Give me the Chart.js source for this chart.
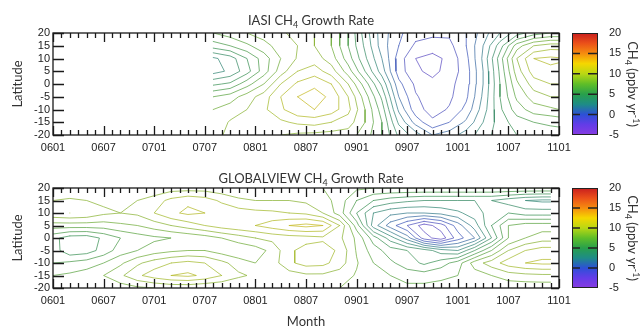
<!DOCTYPE html>
<html><head><meta charset="utf-8">
<script src="https://cdn.jsdelivr.net/npm/chart.js@4/dist/chart.umd.min.js"></script>
<style>html,body{margin:0;padding:0;background:#fff;}canvas{display:block;}</style>
</head><body>
<canvas id="c1" width="640" height="165"></canvas>
<canvas id="c2" width="640" height="165"></canvas>
<script>
// ---------- data ----------
const tickLabels = ['0601','0607','0701','0707','0801','0807','0901','0907','1001','1007','1101'];
const latitudes = [20, 15, 10, 5, 0, -5, -10, -15, -20];
const contourLevels = [-3,-2,-1,0,1,2,3,4,5,6,7,8,9,10,11,12,13];
const colorbarTicks = [-5, 0, 5, 10, 15, 20];

// IASI growth rate (ppbv/yr), month index from 0601 = 0
const iasiMonths = [19,21,23,25,27,29,31,33,35,37,39,41,43,45,47,49,51,53,55,57,59,60];
const iasiLat20  = [7.0,7.5,8.0,8.5,8.9,9.2,9.0,8.0,6.0,3.5,1.5,0.2,-0.6,-0.8,-0.8,0.0,1.5,3.0,4.5,5.5,6.0,6.0];
const iasiLat15  = [5.5,6.0,6.8,7.6,8.5,9.0,9.0,8.0,6.0,3.8,1.5,0.0,-1.2,-1.4,-1.3,0.0,2.0,4.5,7.5,9.0,9.5,9.5];
const iasiLat10  = [2.8,3.5,5.0,6.5,8.0,9.1,9.5,8.5,6.5,4.2,2.0,-0.5,-2.0,-2.4,-1.7,-0.3,2.2,5.5,9.0,11.0,11.2,11.1];
const iasiLat5   = [2.6,3.2,4.6,6.5,8.5,10.0,10.5,9.5,7.5,5.0,2.5,-0.5,-1.8,-2.3,-1.6,-0.5,2.0,5.2,8.5,10.5,10.8,10.8];
const iasiLat0   = [4.8,5.2,6.6,8.0,10.0,11.2,11.8,11.0,9.0,6.5,3.8,0.3,-1.2,-1.7,-1.3,-0.4,2.0,5.0,7.8,9.5,10.0,10.0];
const iasiLatS5  = [7.0,7.5,8.5,9.5,11.0,12.0,12.4,11.8,10.0,7.5,4.8,1.0,-0.9,-1.5,-1.2,-0.2,2.2,5.0,7.2,8.5,9.0,9.0];
const iasiLatS10 = [8.0,8.5,9.0,9.8,10.8,11.8,12.0,11.5,10.3,8.0,5.5,1.8,-0.6,-1.4,-0.9,0.3,2.5,4.8,6.5,7.5,7.8,8.0];
const iasiLatS15 = [8.3,9.1,9.3,9.5,9.8,10.2,10.4,10.0,9.5,8.0,6.0,2.8,0.6,-0.8,0.0,1.2,3.0,4.5,5.5,6.0,6.2,6.3];
const iasiLatS20 = [8.6,9.3,9.3,9.2,9.0,8.8,8.7,8.6,8.5,7.5,6.0,3.8,2.5,1.0,1.5,2.5,3.5,4.5,5.0,5.3,5.5,5.5];

// GLOBALVIEW growth rate (ppbv/yr)
const gvMonths = [0,2,4,6,8,10,12,14,16,18,20,22,24,26,28,30,32,34,36,38,40,42,44,46,48,50,52,54,56,58,59];
const gvLat20  = [8.0,8.0,8.0,8.0,8.0,8.0,8.2,8.5,8.5,8.5,8.3,8.2,8.2,8.3,8.3,8.2,8.0,7.5,7.2,7.0,7.0,7.0,7.0,7.0,7.0,7.0,7.0,7.0,7.0,7.0,7.0];
const gvLat15  = [9.0,9.2,9.0,8.8,8.8,9.0,9.5,10.3,10.8,10.5,9.8,9.2,9.0,9.0,9.0,8.8,8.5,7.5,6.0,5.0,4.5,4.2,4.0,4.0,4.0,4.0,4.0,3.5,3.0,2.8,2.8];
const gvLat10  = [9.8,10.0,9.8,9.2,9.0,9.2,10.0,10.8,11.2,11.0,10.8,10.5,10.3,10.2,10.0,9.8,9.0,7.5,5.0,3.0,2.3,2.0,2.0,2.3,2.8,3.5,4.5,5.0,4.5,4.5,4.5];
const gvLat5   = [7.5,7.5,7.5,7.5,7.8,8.0,8.5,9.0,9.5,10.0,10.5,10.8,11.0,11.5,12.0,12.3,12.0,10.0,6.5,2.5,0.5,-1.0,-2.5,-1.5,0.5,2.5,5.0,7.0,7.5,7.5,7.5];
const gvLat0   = [5.3,4.5,4.4,5.2,6.0,6.5,6.8,7.0,7.2,7.5,8.0,8.5,9.0,9.3,9.5,9.6,9.8,9.2,7.8,5.5,3.5,1.5,-1.5,-2.6,-0.5,1.0,4.0,7.0,8.0,8.5,8.5];
const gvLatS5  = [5.5,4.3,4.5,5.4,6.5,7.0,7.5,7.8,8.0,8.0,7.5,7.2,7.5,8.3,9.8,10.4,10.5,9.8,7.9,6.5,5.5,5.0,4.5,3.5,3.0,5.0,7.0,9.0,10.0,10.5,10.5];
const gvLatS10 = [6.0,6.2,6.5,7.0,7.8,8.8,9.5,10.0,10.3,10.0,9.3,8.5,8.0,8.5,9.8,10.4,10.3,9.5,8.1,7.0,6.2,5.5,4.8,5.5,6.5,8.5,9.5,10.5,11.0,11.2,11.2];
const gvLatS15 = [7.0,7.2,7.5,8.0,8.8,9.8,10.5,11.0,11.2,10.8,10.0,9.2,8.8,8.5,8.5,8.8,8.8,8.5,7.9,7.5,7.0,6.5,6.5,6.8,7.0,7.5,8.0,8.5,8.7,8.8,8.8];
const gvLatS20 = [7.5,7.5,7.5,7.5,7.5,7.8,8.0,8.2,8.2,8.0,8.0,8.0,8.0,8.0,8.0,8.0,8.0,8.0,7.8,7.5,7.5,7.3,7.3,7.3,7.3,7.3,7.3,7.3,7.3,7.3,7.3];

const iasiGrid = [iasiLat20, iasiLat15, iasiLat10, iasiLat5, iasiLat0, iasiLatS5, iasiLatS10, iasiLatS15, iasiLatS20];
const gvGrid = [gvLat20, gvLat15, gvLat10, gvLat5, gvLat0, gvLatS5, gvLatS10, gvLatS15, gvLatS20];

// ---------- colour map ----------
const cmapStops = [[-5,[135,60,225]],[-2.5,[100,60,232]],[0,[45,80,215]],[2.5,[30,140,135]],[5,[40,160,75]],
  [7.5,[95,190,40]],[10,[185,215,20]],[12.5,[245,215,0]],[15,[245,140,15]],[17.5,[235,80,25]],[20,[200,30,30]]];
function cmap(v){
  if (v <= cmapStops[0][0]) return cmapStops[0][1];
  for (let i=1;i<cmapStops.length;i++){
    const [v1,c1] = cmapStops[i], [v0,c0] = cmapStops[i-1];
    if (v <= v1){ const t=(v-v0)/(v1-v0); return c0.map((c,k)=>Math.round(c+(c1[k]-c)*t)); }
  }
  return cmapStops[cmapStops.length-1][1];
}
const rgb = (c,a) => a===undefined ? `rgb(${c[0]},${c[1]},${c[2]})` : `rgba(${c[0]},${c[1]},${c[2]},${a})`;
// contour line colour: colour-map hue softened toward grey
const lineColour = v => { const c = cmap(v); return rgb(c.map(x=>Math.round(x*0.7+120*0.3)), 0.75); };

// ---------- contouring (marching squares) ----------
function contourSegments(xs, ys, grid, level){
  const segs = [];
  for (let j=0;j<ys.length-1;j++){
    for (let i=0;i<xs.length-1;i++){
      const v0=grid[j][i], v1=grid[j][i+1], v2=grid[j+1][i+1], v3=grid[j+1][i];
      if ([v0,v1,v2,v3].some(v => v===null || v===undefined)) continue;
      const h0=v0>=level, h1=v1>=level, h2=v2>=level, h3=v3>=level;
      const P = {};
      if (h0!==h1) P.t = {x: xs[i]+(xs[i+1]-xs[i])*(level-v0)/(v1-v0), y: ys[j]};
      if (h1!==h2) P.r = {x: xs[i+1], y: ys[j]+(ys[j+1]-ys[j])*(level-v1)/(v2-v1)};
      if (h3!==h2) P.b = {x: xs[i]+(xs[i+1]-xs[i])*(level-v3)/(v2-v3), y: ys[j+1]};
      if (h0!==h3) P.l = {x: xs[i], y: ys[j]+(ys[j+1]-ys[j])*(level-v0)/(v3-v0)};
      const k = Object.keys(P);
      if (k.length===2) segs.push([P[k[0]], P[k[1]]]);
      else if (k.length===4){
        const centreHigh = (v0+v1+v2+v3)/4 >= level;
        if ((h0 && centreHigh) || (!h0 && !centreHigh)) { segs.push([P.t,P.r]); segs.push([P.b,P.l]); }
        else { segs.push([P.t,P.l]); segs.push([P.r,P.b]); }
      }
    }
  }
  return segs;
}
function joinSegments(segs){
  const key = p => p.x.toFixed(6)+','+p.y.toFixed(6);
  const adj = new Map();
  segs.forEach((s,idx)=>{ s.forEach(p=>{ const k=key(p); if(!adj.has(k)) adj.set(k,[]); adj.get(k).push(idx); }); });
  const used = new Array(segs.length).fill(false);
  const lines = [];
  for (let s=0;s<segs.length;s++){
    if (used[s]) continue;
    used[s]=true;
    const line=[segs[s][0],segs[s][1]];
    for (const atEnd of [true,false]){
      while(true){
        const p = atEnd ? line[line.length-1] : line[0];
        const c = adj.get(key(p)).filter(i=>!used[i]);
        if (!c.length) break;
        const i=c[0]; used[i]=true;
        const q = key(segs[i][0])===key(p) ? segs[i][1] : segs[i][0];
        if (atEnd) line.push(q); else line.unshift(q);
      }
    }
    lines.push(line);
  }
  return lines;
}
function buildDatasets(xs, grid){
  return contourLevels.map(level=>{
    const lines = joinSegments(contourSegments(xs, latitudes, grid, level));
    const data = [];
    lines.forEach(line=>{ line.forEach(p=>data.push(p)); data.push({x: line[line.length-1].x, y: null}); });
    return {label: String(level), data, showLine: true, spanGaps: false, borderColor: lineColour(level),
      borderWidth: 1, pointRadius: 0, pointHoverRadius: 0, fill: false, tension: 0, borderCapStyle: 'round', borderJoinStyle: 'round'};
  });
}

// ---------- plugins ----------
function drawParts(ctx, parts, x, y, size, family, align){
  const widths = parts.map(p=>{ ctx.font = `${p.s? Math.round(size*0.7): size}px ${family}`; return ctx.measureText(p.t).width; });
  const total = widths.reduce((a,b)=>a+b,0);
  let cx = align==='center' ? x - total/2 : x;
  parts.forEach((p,i)=>{
    ctx.font = `${p.s? Math.round(size*0.7): size}px ${family}`;
    const dy = p.s==='sub' ? size*0.28 : p.s==='sup' ? -size*0.33 : 0;
    ctx.fillText(p.t, cx, y+dy);
    cx += widths[i];
  });
}
const framePlugin = {id:'frame', afterDatasetsDraw(chart){
  const {ctx, chartArea:a, scales:{x,y}} = chart;
  ctx.save(); ctx.strokeStyle='#1a1a1a'; ctx.lineWidth=1.3;
  ctx.strokeRect(a.left, a.top, a.right-a.left, a.bottom-a.top);
  ctx.beginPath();
  for (let m=0;m<=60;m++){
    const px = Math.round(x.getPixelForValue(m))+0.5, len = m%6===0 ? 9 : 5;
    ctx.moveTo(px,a.top); ctx.lineTo(px,a.top+len); ctx.moveTo(px,a.bottom); ctx.lineTo(px,a.bottom-len);
  }
  y.ticks.forEach(t=>{
    const py = Math.round(y.getPixelForValue(t.value))+0.5;
    ctx.moveTo(a.left,py); ctx.lineTo(a.left+11,py); ctx.moveTo(a.right,py); ctx.lineTo(a.right-8,py);
  });
  ctx.stroke(); ctx.restore();
}};
const colorbarPlugin = {id:'colorbar', afterDraw(chart){
  const {ctx, chartArea:a, scales:{cb}} = chart;
  const x0 = a.right+13, w = 26;
  const top = cb.getPixelForValue(20), bot = cb.getPixelForValue(-5);
  ctx.save();
  const g = ctx.createLinearGradient(0,bot,0,top);
  cmapStops.forEach(([v,c])=>g.addColorStop((v+5)/25, rgb(c)));
  ctx.fillStyle=g; ctx.fillRect(x0,top,w,bot-top);
  ctx.strokeStyle='#222'; ctx.lineWidth=1; ctx.strokeRect(x0+0.5,top+0.5,w-1,bot-top-1);
  ctx.lineWidth=1.5; ctx.beginPath();
  colorbarTicks.filter(v=>v>-5 && v<20).forEach(v=>{
    const py=cb.getPixelForValue(v);
    ctx.moveTo(x0,py); ctx.lineTo(x0+8,py); ctx.moveTo(x0+w-10,py); ctx.lineTo(x0+w,py);
  });
  ctx.stroke();
  ctx.fillStyle='#222'; ctx.font="11px 'Liberation Sans', Arial, sans-serif";
  ctx.textBaseline='middle'; ctx.textAlign='left';
  colorbarTicks.forEach(v=>ctx.fillText(String(v), 609, cb.getPixelForValue(v)));
  ctx.translate(632,(top+bot)/2); ctx.rotate(Math.PI/2);
  ctx.fillStyle='#333';
  drawParts(ctx,[{t:'CH'},{t:'4',s:'sub'},{t:' (ppbv yr'},{t:'-1',s:'sup'},{t:')'}],0,0,13,'Lato','center');
  ctx.restore();
}};
function titlePlugin(parts, ty){ return {id:'ptitle', afterDraw(chart){
  const {ctx, chartArea:a} = chart;
  ctx.save(); ctx.fillStyle='#333'; ctx.textBaseline='middle'; ctx.textAlign='left';
  drawParts(ctx, parts, (a.left+a.right)/2+5, ty, 13, 'Lato', 'center');
  ctx.restore();
}};}

// ---------- charts ----------
Chart.defaults.font.family = "'Liberation Sans', Arial, sans-serif";
Chart.defaults.font.size = 11;
Chart.defaults.color = '#222';
function makeChart(id, xs, grid, o){
  return new Chart(document.getElementById(id), {
    type:'scatter',
    data:{datasets: buildDatasets(xs, grid)},
    options:{
      responsive:false, animation:false, devicePixelRatio:1, events:[],
      layout:{padding:{top:o.top,left:0,right:0,bottom:0}},
      plugins:{legend:{display:false}, tooltip:{enabled:false}, title:{display:false}},
      scales:{
        x:{type:'linear', position:'bottom', min:0, max:60, afterFit:s=>{s.height=o.xh;},
           grid:{display:false, drawTicks:false}, border:{display:false},
           ticks:{stepSize:6, autoSkip:false, maxRotation:0, padding:6, callback:v=>tickLabels[Math.round(v/6)]},
           title:{display:o.month, text:'Month', font:{family:'Lato', size:13}, color:'#333', padding:{top:0,bottom:0}}},
        y:{type:'linear', position:'left', min:-20, max:20, afterFit:s=>{s.width=53;},
           grid:{display:false, drawTicks:false}, border:{display:false},
           ticks:{stepSize:5, padding:3, autoSkip:false, font:{size:11, lineHeight:1}},
           title:{display:true, text:'Latitude', font:{family:'Lato', size:13}, color:'#333', padding:{top:10,bottom:0}}},
        cb:{type:'linear', position:'right', min:-5, max:20, afterFit:s=>{s.width=81;},
           grid:{display:false, drawTicks:false}, border:{display:false},
           ticks:{display:false, stepSize:5}}
      }
    },
    plugins:[framePlugin, colorbarPlugin, titlePlugin(o.title, o.ty)]
  });
}
makeChart('c1', iasiMonths, iasiGrid, {top:33, xh:30, month:false, ty:21,
  title:[{t:'IASI CH'},{t:'4',s:'sub'},{t:' Growth Rate'}]});
makeChart('c2', gvMonths, gvGrid, {top:23, xh:42, month:true, ty:14,
  title:[{t:'GLOBALVIEW CH'},{t:'4',s:'sub'},{t:' Growth Rate'}]});
</script>
</body></html>
